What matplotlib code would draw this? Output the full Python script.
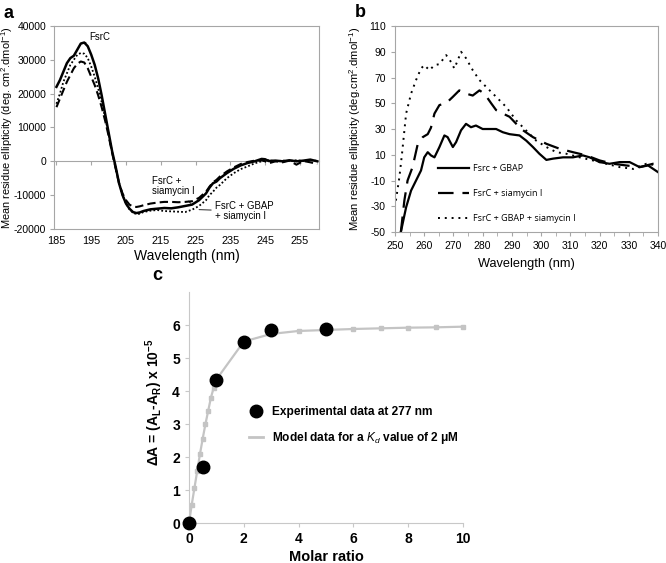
import matplotlib
matplotlib.use("Agg")
import matplotlib.pyplot as plt
from matplotlib.lines import Line2D
from matplotlib.ticker import MultipleLocator

plt.rcParams["font.family"] = ["Liberation Sans", "DejaVu Sans"]
plt.rcParams["axes.unicode_minus"] = False
plt.rcParams["mathtext.fontset"] = "custom"
plt.rcParams["mathtext.rm"] = "Liberation Sans"
plt.rcParams["mathtext.it"] = "Liberation Sans:italic"
plt.rcParams["mathtext.bf"] = "Liberation Sans:bold"

# ---- panel a: far-UV CD spectra ----
wl_a = [185, 186, 187, 188, 189, 190, 191, 192, 193, 194, 195, 196, 197, 198, 199,
        200, 201, 202, 203, 204, 205, 206, 207, 208, 209, 210, 212, 214, 216, 218,
        220, 222, 224, 226, 228, 229, 230, 231, 232, 234, 236, 238, 240, 242, 244,
        245, 246, 248, 250, 252, 254, 256, 258, 260]
fsrc_a = [22000, 24000, 26500, 29000, 30500, 31200, 33000, 34800, 35100, 34000, 31500,
          28500, 24500, 19500, 14000, 8500, 3000, -1500, -6500, -10000, -12500, -14000,
          -15000, -15300, -15100, -14700, -14200, -14000, -13800, -13900, -13600, -13200,
          -12800, -11500, -9500, -7800, -6500, -6000, -5000, -3500, -2200, -1200, -500,
          0, 700, 600, 100, 200, 0, 300, 0, 200, 500, 0]
siam_a = [16000, 18500, 21000, 23500, 25500, 27500, 28800, 29500, 29200, 27500, 25000,
          22500, 19500, 16000, 12000, 7500, 2500, -2000, -6500, -9500, -11500, -12800,
          -13400, -13500, -13300, -13000, -12500, -12200, -12000, -12000, -12100, -12000,
          -11800, -10800, -9000, -7500, -6200, -5500, -4500, -3000, -1800, -800, -200,
          200, 300, 0, -600, 0, -300, 200, -1000, 100, -300, -800]
gbap_siam_a = [17000, 20000, 23500, 26000, 28500, 30000, 31500, 32000, 31800, 30500, 28000,
               25000, 21500, 17500, 13000, 8000, 2800, -1800, -6500, -10000, -12500, -14200,
               -15200, -15600, -15500, -15000, -14600, -14400, -14700, -14800, -14900, -15000,
               -14300, -13200, -11500, -10000, -9000, -7800, -7000, -5000, -3500, -2300, -1500,
               -600, 0, 200, 300, 0, 200, 100, 300, 100, 400, 100]

# ---- panel b: near-UV CD spectra ----
wl_b_gbap = [252.0, 253.8, 255.5, 257.2, 258.9, 260.0, 261.2, 262.3, 263.5, 265.2, 266.9,
             268.0, 269.8, 270.9, 272.6, 274.3, 276.0, 277.7, 280.0, 282.3, 284.6, 286.9,
             289.2, 292.6, 294.9, 297.2, 299.4, 301.8, 304.1, 307.5, 310.9, 314.3, 316.6,
             320.0, 323.4, 326.9, 330.3, 333.7, 336.6, 340.0]
fsrc_gbap_b = [-50, -30.8, -17.8, -10, -2.2, 8, 12, 9.5, 8, 16, 25, 23.7, 16, 19.8, 29, 34,
               31.4, 32.7, 30, 30, 30, 27.5, 26, 25, 21, 16, 10.8, 6, 7, 8, 8, 9.5, 8,
               4.3, 3, 4.3, 4.3, 0.4, 1.7, -3.5]
wl_b_siam = [252.0, 253.2, 254.3, 256.0, 257.8, 259.5, 261.2, 262.3, 263.5, 265.2, 267.5,
             269.8, 272.0, 274.3, 276.6, 278.9, 280.6, 282.9, 284.6, 286.9, 289.2, 291.5,
             293.8, 297.2, 301.8, 306.4, 310.9, 315.5, 320.0, 324.6, 329.1, 333.7, 338.3, 340.0]
fsrc_siam_b = [-50, -25.6, -10, 0.4, 18.5, 23.7, 26, 31, 42, 48.6, 50, 55, 60, 57.5, 56, 60,
               57.5, 50, 44.7, 42, 39.5, 34, 29, 23.7, 18.5, 14.6, 12, 9.5, 5.6, 3, 1.7,
               0.4, 3, 2.5]
wl_b_all = [250.3, 251.5, 252.4, 253.8, 255.5, 257.2, 258.9, 260.0, 261.8, 263.5, 265.2,
            267.5, 269.2, 270.3, 271.5, 272.6, 274.3, 276.6, 278.9, 281.2, 284.6, 288.1,
            291.5, 294.9, 298.3, 301.8, 305.2, 308.6, 313.2, 317.7, 322.3, 326.9, 331.5,
            336.0, 340.0]
fsrc_gbap_siam_b = [-25.6, -7.4, 10.8, 42, 57.5, 68, 77, 79.6, 75.7, 79.6, 80.4, 87.4, 82,
                    77, 83.5, 90, 85, 75.7, 68, 62.7, 55, 47, 36.6, 28.8, 21, 16, 12, 10.8,
                    8, 5.6, 3, 0.4, -1, 3, 1.7]

# ---- panel c: titration ----
exp_ratio = [0, 0.5, 1, 2, 3, 5]
exp_dA = [0, 1.7, 4.32, 5.5, 5.86, 5.88]
model_ratio = [0, 0.1, 0.2, 0.3, 0.4, 0.5, 0.6, 0.7, 0.8, 0.9, 1, 2, 3, 4, 5, 6, 7, 8, 9, 10]
model_dA = [0, 0.56, 1.07, 1.58, 2.09, 2.56, 3.0, 3.4, 3.8, 4.1, 4.35, 5.5, 5.73, 5.82,
            5.85, 5.88, 5.9, 5.92, 5.93, 5.95]

FRAME = "#a6a6a6"
MODEL_GREY = "#c4c4c4"

fig = plt.figure(figsize=(6.66, 5.63), dpi=100)

# panel a
ax_a = fig.add_axes([0.0811, 0.5933, 0.3979, 0.3606])
ax_a.plot(wl_a, fsrc_a, color="black", lw=1.8, ls="-")
ax_a.plot(wl_a, siam_a, color="black", lw=1.5, ls=(0, (4, 2)))
ax_a.plot(wl_a, gbap_siam_a, color="black", lw=1.3, ls=(0, (1, 1.2)))
ax_a.set_xlim(184.3, 260.5)
ax_a.set_ylim(-20000, 40000)
ax_a.yaxis.set_major_locator(MultipleLocator(10000))
ax_a.set_xticks(range(185, 261, 10))
ax_a.tick_params(axis="x", length=0, labelsize=7.8, pad=5)
ax_a.tick_params(axis="y", length=3, color=FRAME, labelsize=7.5, pad=2.5)
for sp in ax_a.spines.values():
    sp.set_color(FRAME)
ax_zero = ax_a.secondary_xaxis(1 / 3)
ax_zero.set_xticks(range(185, 261, 10))
ax_zero.tick_params(length=3, color=FRAME, labelbottom=False)
ax_zero.spines["bottom"].set_color(FRAME)
ax_a.set_xlabel("Wavelength (nm)", fontsize=10, labelpad=2)
ax_a.set_ylabel(r"Mean residue ellipticity (deg. cm$^2$.dmol$^{-1}$)", fontsize=7.9)
ax_a.yaxis.set_label_coords(-0.146, 0.5)
ann_kw = dict(fontsize=6.9, va="center", ha="left", linespacing=1.0)
ax_a.annotate("FsrC", xy=(193.2, 35000), xytext=(194.3, 36700),
              arrowprops=dict(arrowstyle="-", color="black", lw=0.6, shrinkA=0, shrinkB=0),
              **ann_kw)
ax_a.annotate("FsrC +\nsiamycin I", xy=(223.6, -12400), xytext=(212.6, -7400),
              arrowprops=dict(arrowstyle="-", color="black", lw=0.6, shrinkA=2, shrinkB=0),
              **ann_kw)
ax_a.annotate("FsrC + GBAP\n+ siamycin I", xy=(226, -14300), xytext=(230.7, -14700),
              arrowprops=dict(arrowstyle="-", color="black", lw=0.6, shrinkA=1, shrinkB=0),
              **ann_kw)
fig.text(0.006, 0.976, "a", fontsize=13, fontweight="bold", va="center")

# panel b
ax_b = fig.add_axes([0.5931, 0.5879, 0.3949, 0.3659])
ax_b.plot(wl_b_gbap, fsrc_gbap_b, color="black", lw=1.6, ls="-", label="Fsrc + GBAP")
ax_b.plot(wl_b_siam, fsrc_siam_b, color="black", lw=1.6, ls=(0, (7, 4)),
          label="FsrC + siamycin I")
ax_b.plot(wl_b_all, fsrc_gbap_siam_b, color="black", lw=1.4, ls=(0, (1, 2.5)),
          label="FsrC + GBAP + siamycin I")
ax_b.set_xlim(250, 340)
ax_b.set_ylim(-50, 110)
ax_b.xaxis.set_major_locator(MultipleLocator(10))
ax_b.xaxis.set_minor_locator(MultipleLocator(5))
ax_b.set_yticks(range(-50, 111, 20))
ax_b.tick_params(which="both", length=3, color=FRAME, labelsize=7.5)
for sp in ax_b.spines.values():
    sp.set_color(FRAME)
ax_b.set_xlabel("Wavelength (nm)", fontsize=9.2, labelpad=5)
ax_b.set_ylabel(r"Mean residue ellipticity (deg.cm$^2$.dmol$^{-1}$)", fontsize=8.1)
ax_b.yaxis.set_label_coords(-0.122, 0.5)
ax_b.legend(loc="lower left", bbox_to_anchor=(0.132, 0.005), frameon=False,
            handlelength=3.4, labelspacing=1.75, handletextpad=0.45,
            prop={"family": "Open Sans", "size": 6.5})
fig.text(0.533, 0.978, "b", fontsize=13, fontweight="bold", va="center")

# panel c
ax_c = fig.add_axes([0.2838, 0.0710, 0.4114, 0.4103])
ax_c.plot(model_ratio, model_dA, color=MODEL_GREY, lw=1.6, marker="s", markersize=3,
          clip_on=False, zorder=2)
ax_c.plot(exp_ratio, exp_dA, ls="none", marker="o", markersize=9, color="black",
          clip_on=False, zorder=3)
ax_c.set_xlim(0, 10)
ax_c.set_ylim(0, 7)
ax_c.set_xticks(range(0, 11, 2))
ax_c.set_yticks(range(0, 7))
for side in ("top", "right"):
    ax_c.spines[side].set_visible(False)
for side in ("left", "bottom"):
    ax_c.spines[side].set_color("#c8c8c8")
ax_c.tick_params(length=3, color="#c8c8c8", labelsize=10)
for lbl in ax_c.get_xticklabels() + ax_c.get_yticklabels():
    lbl.set_fontweight("bold")
ax_c.set_xlabel("Molar ratio", fontsize=10.5, fontweight="bold", labelpad=3)
ax_c.set_ylabel(r"$\mathbf{\Delta A}$ = (A$_\mathbf{L}$-A$_\mathbf{R}$) x 10$^\mathbf{-5}$",
                fontsize=10, fontweight="bold")
ax_c.yaxis.set_label_coords(-0.086, 0.524)
legend_handles = [
    Line2D([], [], ls="none", marker="o", markersize=9, color="black"),
    Line2D([], [], color=MODEL_GREY, lw=2),
]
legend_labels = ["Experimental data at 277 nm",
                 r"Model data for a $\mathit{K_d}$ value of 2 μM"]
ax_c.legend(legend_handles, legend_labels, loc="center left", bbox_to_anchor=(0.18, 0.42),
            frameon=False, handlelength=1.2, labelspacing=1.0, handletextpad=0.7,
            prop={"weight": "bold", "size": 8.6})
fig.text(0.228, 0.51, "c", fontsize=13, fontweight="bold", va="center")

fig.savefig("out.png", dpi=100)
